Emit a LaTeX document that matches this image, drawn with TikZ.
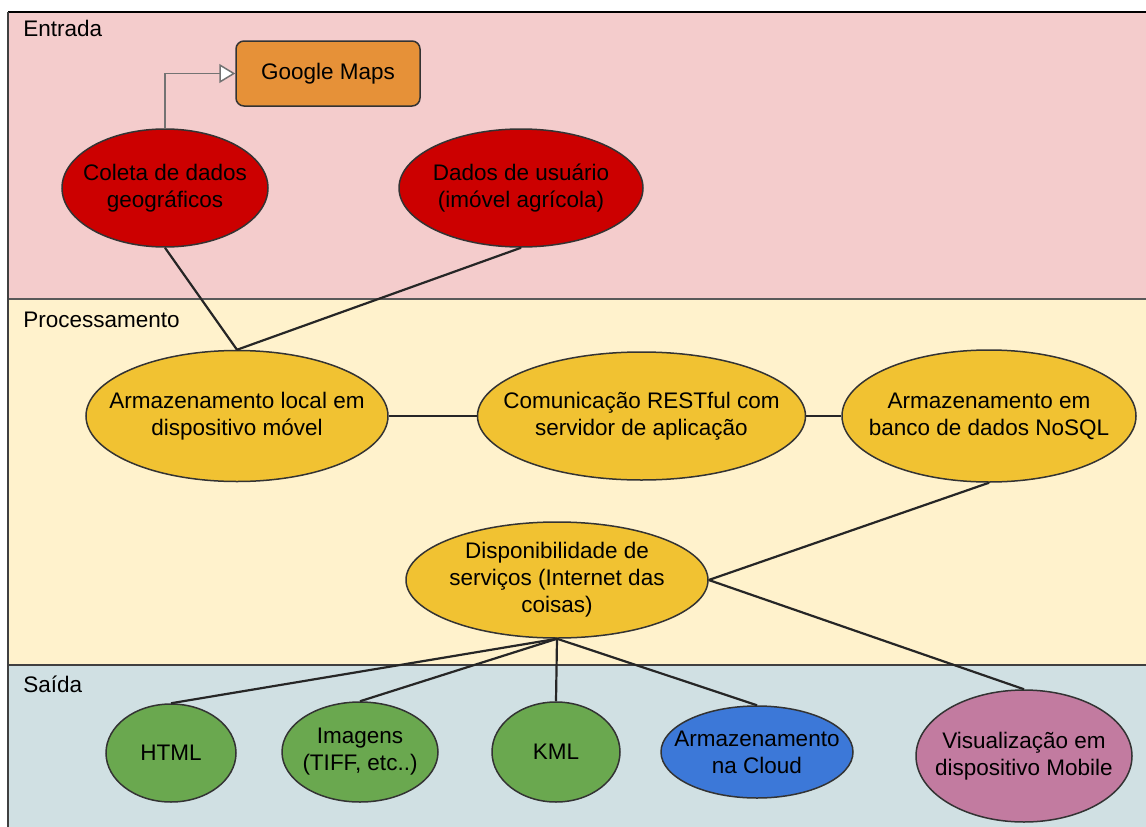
\documentclass[tikz,border=0pt]{standalone}
\usepackage{fontspec}
\setmainfont{Liberation Sans}
\usetikzlibrary{shapes.geometric}
\usetikzlibrary{positioning}
\usetikzlibrary{arrows.meta}
\definecolor{laneIn}{HTML}{F4CCCC}
\definecolor{laneProc}{HTML}{FFF2CC}
\definecolor{laneOut}{HTML}{D0E0E3}
\definecolor{redfill}{HTML}{CC0000}
\definecolor{yellowfill}{HTML}{F1C232}
\definecolor{orangefill}{HTML}{E69138}
\definecolor{greenfill}{HTML}{6AA84F}
\definecolor{bluefill}{HTML}{3C78D8}
\definecolor{pinkfill}{HTML}{C27BA0}
\definecolor{stroke}{HTML}{333333}

\begin{document}
\begin{tikzpicture}[
            x = 1pt, y = -1pt, % pixel grid, y going down
            font = \fontsize{22.5}{27}\selectfont,
            node distance = 88pt,
            semithick % line style
        ]

        \tikzstyle{blob}=[
            ellipse,
            draw = stroke,
            line width = 1.5pt,
            inner sep = -200pt, % size comes from minimum width/height only
            align = center
        ]
        \tikzstyle{link}=[draw = black!85, line width = 2.2pt]
        \tikzstyle{lane}=[anchor = west, inner sep = 0pt]

        \useasboundingbox (0,0) rectangle (1146,827);

        % lanes
        \fill[laneIn] (8,12) rectangle (1146,299);
        \fill[laneProc] (8,299) rectangle (1146,665);
        \fill[laneOut] (8,665) rectangle (1146,827);
        \draw[black!65, line width = 1.3pt] (8,299) -- (1146,299);
        \draw[black!75, line width = 1.3pt] (8,665) -- (1146,665);
        \draw[black, line width = 2pt] (8,12) -- (1146,12);
        \draw[black!75, line width = 1.3pt] (8,12) -- (8,827);

        \node[lane] (TIn) at (23,28) {Entrada};
        \node[lane] (TProc) at (23,320) {Processamento};
        \node[lane] (TOut) at (23,684) {Saída};

        % entrada
        \node[blob, fill = redfill, minimum width = 206pt, minimum height = 118pt] (C) at (165,188) {Coleta de dados\\geográficos};
        \node[blob, fill = redfill, minimum width = 244pt, minimum height = 118pt] (D) at (521,188) {Dados de usuário\\(imóvel agrícola)};
        \node[draw = stroke, line width = 1.5pt, fill = orangefill, rounded corners = 8pt,
              minimum width = 184pt, minimum height = 65pt] (G) at (328,73.5) {Google Maps};

        \draw[black!55, line width = 1.5pt, -{Triangle[open, fill = white, length = 16pt, width = 19pt]}] (C.north) |- (G.west);

        % processamento
        \node[blob, fill = yellowfill, minimum width = 302pt, minimum height = 131pt] (L) at (237,416) {Armazenamento local em\\dispositivo móvel};
        \node[blob, fill = yellowfill, minimum width = 328pt, minimum height = 128pt] (R) [right = of L] {Comunicação RESTful com\\servidor de aplicação};
        \node[blob, fill = yellowfill, minimum width = 294pt, minimum height = 132pt] (B) at (989,416) {Armazenamento em\\banco de dados NoSQL};
        \node[blob, fill = yellowfill, minimum width = 302pt, minimum height = 116pt] (S) at (557,580) {Disponibilidade de\\serviços (Internet das\\coisas)};

        \path[link] (C.south) -- (L.north);
        \path[link] (D.south) -- (L.north);
        \path[link] (L.east) -- (R.west);
        \path[link] (R.east) -- (B.west);
        \path[link] (B.south) -- (S.east);

        % saida
        \node[blob, fill = greenfill, minimum width = 130pt, minimum height = 98pt] (H) at (171,753) {HTML};
        \node[blob, fill = greenfill, minimum width = 156pt, minimum height = 100pt] (I) at (360,752) {Imagens\\(TIFF, etc..)};
        \node[blob, fill = greenfill, minimum width = 128pt, minimum height = 100pt] (K) at (556,752) {KML};
        \node[blob, fill = bluefill, minimum width = 192pt, minimum height = 92pt] (N) at (757,752) {Armazenamento\\na Cloud};
        \node[blob, fill = pinkfill, minimum width = 216pt, minimum height = 132pt] (V) at (1024,756) {Visualização em\\dispositivo Mobile};

        \path[link] (S.south) -- (H.north);
        \path[link] (S.south) -- (I.north);
        \path[link] (S.south) -- (K.north);
        \path[link] (S.south) -- (N.north);
        \path[link] (S.east) -- (V.north);

  \end{tikzpicture}
\end{document}
